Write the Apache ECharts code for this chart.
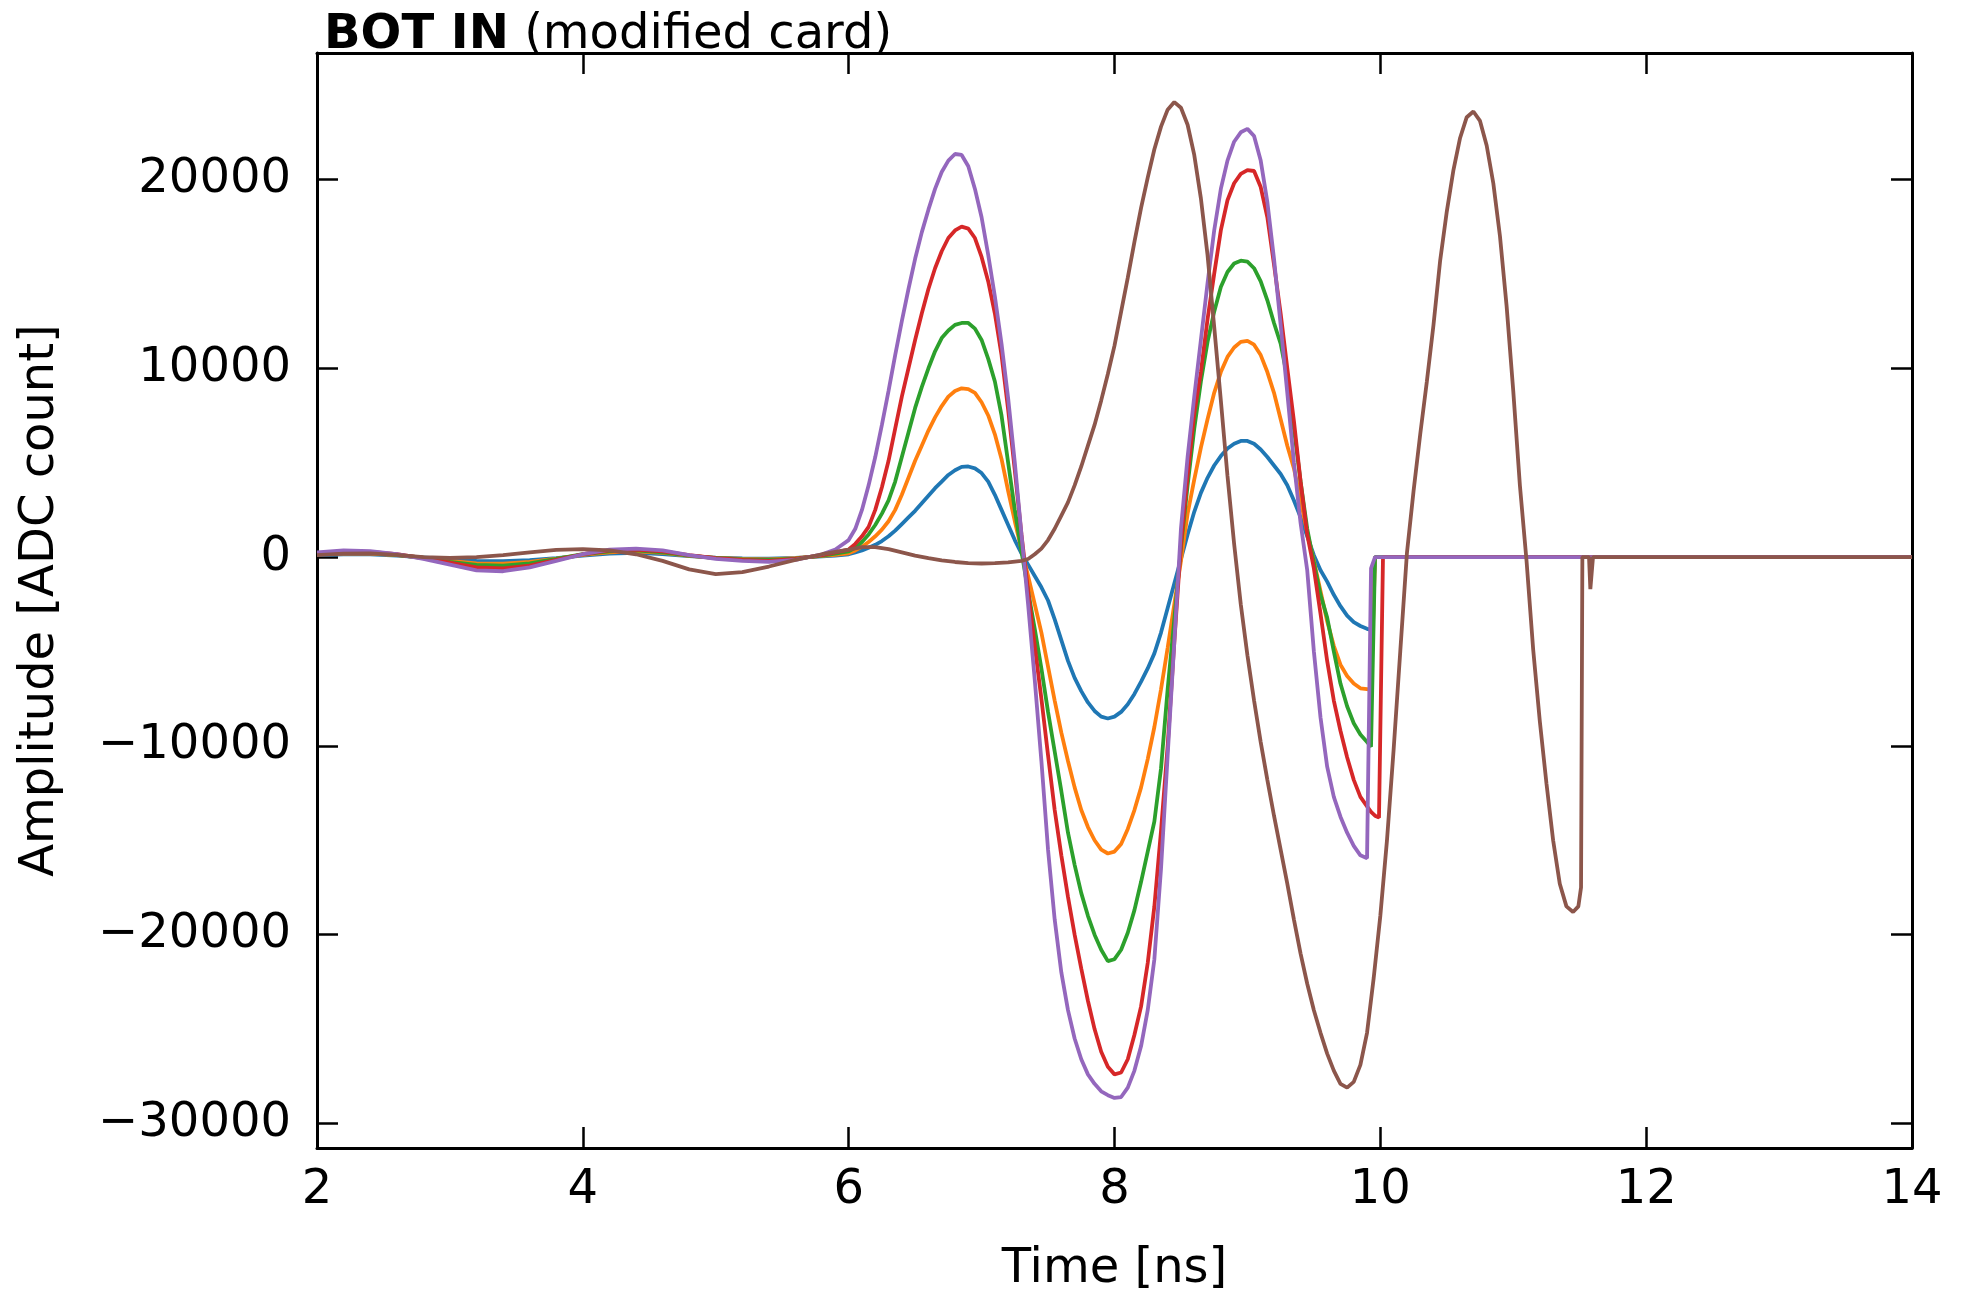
<!DOCTYPE html>
<html><head><meta charset="utf-8">
<script src="https://cdn.jsdelivr.net/npm/echarts@6/dist/echarts.min.js"></script>
<style>html,body{margin:0;padding:0;background:#fff}#c{width:1963px;height:1291px}</style>
</head><body><div id="c"></div>
<script>
// ---- data ----
const familyTime = [2.0,2.2,2.4,2.6,2.8,3.0,3.2,3.4,3.6,3.8,4.0,4.2,4.4,4.6,4.8,5.0,5.2,5.4,5.6,5.8,5.9,
 6.00,6.05,6.10,6.15,6.20,6.25,6.30,6.35,6.40,6.45,6.50,6.55,6.60,6.65,6.70,6.75,6.80,6.85,6.90,6.95,
 7.00,7.05,7.10,7.15,7.20,7.25,7.30,7.35,7.40,7.45,7.50,7.55,7.60,7.65,7.70,7.75,7.80,7.85,7.90,7.95,
 8.00,8.05,8.10,8.15,8.20,8.25,8.30,8.35,8.40,8.45,8.50,8.55,8.60,8.65,8.70,8.75,8.80,8.85,8.90,8.95,
 9.00,9.05,9.10,9.15,9.20,9.25,9.30,9.35,9.40,9.45,9.50,9.55,9.60,9.65,9.70,9.75,9.80,9.85,9.90,
 9.93,9.96,9.99,10.02,14.0];

const blueAmp = [100,150,140,80,-20,-120,-200,-220,-160,-50,80,180,220,160,50,-30,-70,-80,-40,40,80,
 150,250,350,500,650,850,1100,1400,1750,2100,2450,2850,3250,3650,4000,4350,4600,4780,4800,4700,
 4450,4000,3300,2500,1700,900,200,-400,-1000,-1600,-2300,-3300,-4400,-5500,-6400,-7100,-7700,-8150,-8450,-8550,
 -8450,-8200,-7800,-7250,-6600,-5900,-5100,-4000,-2700,-1400,-100,1200,2400,3400,4200,4850,5350,5750,6000,6150,
 6150,6000,5700,5300,4850,4400,3800,3000,2100,1100,100,-700,-1300,-2000,-2600,-3100,-3450,-3650,-3800,
 -3860,0,0,0,0];

const orangeAmp = [150,200,190,100,-30,-200,-330,-350,-250,-80,120,250,300,220,70,-40,-100,-120,-60,60,120,
 200,350,550,800,1100,1450,1900,2500,3300,4200,5100,5900,6700,7400,8000,8500,8800,8940,8900,8700,
 8200,7500,6500,5200,3500,1900,400,-1000,-2500,-4000,-5800,-7600,-9300,-10800,-12200,-13400,-14300,-15000,-15500,-15700,
 -15600,-15200,-14400,-13400,-12200,-10700,-9000,-7000,-4800,-2500,-200,2300,4100,5800,7300,8700,9800,10600,11100,11400,
 11450,11250,10700,9800,8700,7300,5900,4700,3000,1300,-200,-1800,-3400,-4700,-5700,-6300,-6700,-6950,-7000,
 -7040,0,0,0,0];

const greenAmp = [200,250,230,120,-50,-250,-420,-450,-330,-100,150,300,350,250,80,-50,-120,-150,-80,80,180,
 300,500,800,1200,1700,2300,3000,4000,5300,6600,7900,9000,10000,10900,11600,12000,12300,12400,12400,12100,
 11500,10500,9300,7500,5000,2500,300,-1800,-3800,-5900,-8200,-10300,-12400,-14600,-16300,-17800,-19000,-20000,-20800,-21400,
 -21300,-20800,-19900,-18700,-17200,-15600,-14000,-11200,-7000,-3300,500,3800,6800,9300,11400,13000,14300,15100,15550,15700,
 15650,15300,14600,13600,12400,11300,9500,6800,4000,1500,-300,-2000,-3200,-5000,-6700,-7900,-8800,-9400,-9800,
 -10040,0,0,0,0];

const redAmp = [200,300,280,150,-50,-300,-550,-600,-450,-150,150,350,400,300,100,-50,-150,-200,-100,100,250,
 400,700,1100,1600,2500,3700,5100,6800,8500,10000,11500,12900,14200,15300,16200,16900,17300,17500,17400,16900,
 15900,14600,12900,10700,7800,4600,1200,-1800,-4700,-7500,-10500,-13400,-15800,-18000,-20000,-21800,-23500,-25000,-26200,-27000,
 -27400,-27300,-26600,-25300,-23800,-21500,-18500,-14500,-10000,-4500,700,4300,7600,9800,12600,15000,17300,18900,19800,20300,
 20500,20450,19600,18000,15500,12900,10000,7200,4000,1200,-600,-3000,-5500,-7600,-9200,-10600,-11800,-12700,-13200,
 -13500,-13700,-13800,0,0];

const purpleAmp = [250,350,320,150,-100,-400,-700,-750,-550,-200,150,400,450,350,100,-100,-200,-250,-150,150,400,
 900,1500,2500,3800,5300,7000,8800,10700,12500,14200,15800,17200,18400,19500,20400,21000,21350,21300,20700,19500,
 18000,16000,13800,11300,8400,5000,1200,-2500,-6500,-10800,-15500,-19200,-22000,-24000,-25500,-26600,-27400,-27900,-28300,-28500,
 -28650,-28600,-28100,-27200,-25900,-24000,-21300,-16500,-10500,-4500,1500,5300,8500,11500,14500,17300,19500,21000,22000,22500,
 22680,22300,21000,18800,15800,12300,8700,5000,1800,-700,-5000,-8500,-11100,-12700,-13750,-14600,-15300,-15800,-15950,
 -600,0,0,0,0];

const brownTime = [2.0,2.2,2.4,2.6,2.8,3.0,3.2,3.4,3.6,3.8,4.0,4.2,4.4,4.6,4.8,5.0,5.2,5.4,5.6,5.8,6.0,
 6.1,6.2,6.3,6.4,6.5,6.6,6.7,6.8,6.9,7.0,7.1,7.2,7.25,7.30,7.35,7.40,7.45,7.50,7.55,7.60,7.65,7.70,7.75,7.80,7.85,7.90,7.95,
 8.00,8.05,8.10,8.15,8.20,8.25,8.30,8.35,8.40,8.45,8.50,8.55,8.60,8.65,8.70,8.75,8.80,8.85,8.90,8.95,
 9.00,9.05,9.10,9.15,9.20,9.25,9.30,9.35,9.40,9.45,9.50,9.55,9.60,9.65,9.70,9.75,9.80,9.85,9.90,9.95,
 10.00,10.05,10.10,10.15,10.20,10.25,10.30,10.35,10.40,10.45,10.50,10.55,10.60,10.65,10.70,10.75,10.80,10.85,10.90,10.95,
 11.00,11.05,11.10,11.15,11.20,11.25,11.30,11.35,11.40,11.45,11.49,11.51,11.52,11.57,11.58,11.59,11.60,14.0];

const brownAmp = [100,180,200,120,0,-50,0,100,250,380,420,350,150,-200,-650,-900,-800,-500,-150,150,400,
 530,530,420,250,80,-60,-180,-260,-320,-340,-320,-280,-240,-200,-100,150,450,900,1500,2200,2900,3800,4800,5900,7000,8300,9700,
 11200,13000,14800,16700,18500,20100,21600,22800,23700,24100,23800,22900,21300,19000,16000,12200,8300,4300,700,-2500,
 -5200,-7600,-9800,-11800,-13700,-15500,-17300,-19200,-21000,-22600,-24000,-25200,-26300,-27200,-27900,-28100,-27800,-26900,-25200,-22300,
 -19000,-15000,-10200,-5000,200,3500,6500,9300,12300,15700,18300,20500,22200,23300,23600,23100,21800,19800,17000,13300,
 8800,3800,-200,-4900,-8700,-12000,-15000,-17300,-18500,-18800,-18500,-17500,0,0,-1700,-1700,0,0];

const xTicks = [2,4,6,8,10,12,14];
const yTicks = [-30000,-20000,-10000,0,10000,20000];
const seriesNames = ['blue','orange','green','red','purple','brown'];
const colors = ['#1f77b4','#ff7f0e','#2ca02c','#d62728','#9467bd','#8c564b'];

// ---- chart ----
const FONT = 'DejaVu Sans';
const pair = (ts, vs) => ts.map((t, i) => [t, vs[i]]);
const allData = [
  pair(familyTime, blueAmp), pair(familyTime, orangeAmp), pair(familyTime, greenAmp),
  pair(familyTime, redAmp), pair(familyTime, purpleAmp), pair(brownTime, brownAmp)
];
const fmtY = v => (v < 0 ? '\u2212' + Math.abs(v) : String(v));
const axisLineStyle = {color: '#000', width: 3};
const tickStyle = {color: '#000', width: 2.5};

const chart = echarts.init(document.getElementById('c'), null, {renderer: 'canvas'});
chart.setOption({
  animation: false,
  backgroundColor: '#fff',
  title: {
    left: 319, top: 7,
    text: '{b|BOT IN}{n| (modified card)}',
    textStyle: {
      fontWeight: 'normal',
      rich: {
        b: {fontFamily: FONT, fontSize: 48, fontWeight: 'bold', color: '#000'},
        n: {fontFamily: FONT, fontSize: 48, fontWeight: 'normal', color: '#000'}
      }
    }
  },
  grid: {left: 317, right: 51, top: 53, bottom: 143, containLabel: false, outerBoundsMode: 'none'},
  xAxis: [
    {
      type: 'value', min: 2, max: 14, interval: 2, position: 'bottom',
      name: 'Time [ns]', nameLocation: 'middle', nameGap: 98,
      nameTextStyle: {fontFamily: FONT, fontSize: 48, color: '#000'},
      axisLine: {show: true, onZero: false, lineStyle: axisLineStyle},
      axisTick: {show: true, inside: true, length: 21, lineStyle: tickStyle},
      axisLabel: {fontFamily: FONT, fontSize: 48, color: '#000', margin: 19,
                  customValues: xTicks},
      splitLine: {show: false}
    },
    {
      type: 'value', min: 2, max: 14, interval: 2, position: 'top',
      axisLine: {show: true, onZero: false, lineStyle: axisLineStyle},
      axisTick: {show: true, inside: true, length: 21, lineStyle: tickStyle},
      axisLabel: {show: false},
      splitLine: {show: false}
    }
  ],
  yAxis: [
    {
      type: 'value', min: -31300, max: 26700, position: 'left',
      name: 'Amplitude [ADC count]', nameLocation: 'middle', nameGap: 252,
      nameTextStyle: {fontFamily: FONT, fontSize: 48, color: '#000'},
      axisLine: {show: true, onZero: false, lineStyle: axisLineStyle},
      axisTick: {show: true, inside: true, length: 21, lineStyle: tickStyle, customValues: yTicks},
      axisLabel: {fontFamily: FONT, fontSize: 48, color: '#000', margin: 26,
                  customValues: yTicks, formatter: fmtY},
      splitLine: {show: false}
    },
    {
      type: 'value', min: -31300, max: 26700, position: 'right',
      axisLine: {show: true, onZero: false, lineStyle: axisLineStyle},
      axisTick: {show: true, inside: true, length: 21, lineStyle: tickStyle, customValues: yTicks},
      axisLabel: {show: false},
      splitLine: {show: false}
    }
  ],
  series: allData.map((d, i) => ({
    name: seriesNames[i], type: 'line', data: d,
    xAxisIndex: 0, yAxisIndex: 0,
    showSymbol: false, symbol: 'none',
    lineStyle: {color: colors[i], width: 3.8},
    itemStyle: {color: colors[i]},
    clip: true
  }))
});
</script></body></html>
